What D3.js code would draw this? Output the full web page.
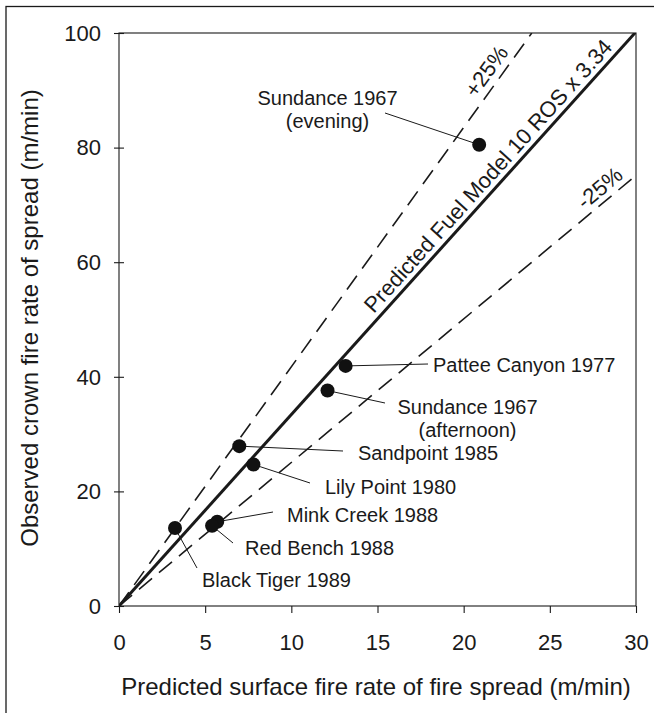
<!DOCTYPE html>
<html><head><meta charset="utf-8">
<script src="https://cdn.jsdelivr.net/npm/d3@7/dist/d3.min.js"></script>
<style>
html,body{margin:0;padding:0;background:#fff;}
svg{display:block;font-family:"Liberation Sans",Arial,Helvetica,sans-serif;}
</style></head>
<body>
<svg id="chart" width="654" height="713"></svg>
<script>
// ---- data ----
const fireNames = ["Sundance 1967 (evening)","Pattee Canyon 1977","Sundance 1967 (afternoon)","Sandpoint 1985","Lily Point 1980","Mink Creek 1988","Red Bench 1988","Black Tiger 1989"];
const predictedSurface = [20.9, 13.15, 12.1, 6.98, 7.8, 5.7, 5.4, 3.25];
const observedCrown    = [80.5, 41.9, 37.6, 27.9, 24.7, 14.7, 14.0, 13.6];
const xTicks = [0,5,10,15,20,25,30];
const yTicks = [0,20,40,60,80,100];
const modelFactor = 3.34;
const bandFactors = [1.25, 0.75];
const bandLabels = ["+25%","-25%"];
const modelLabel = "Predicted Fuel Model 10 ROS x 3.34";
const xTitle = "Predicted surface fire rate of fire spread (m/min)";
const yTitle = "Observed crown fire rate of spread (m/min)";

// ---- label layout (pixel positions of annotation text & leader ends) ----
const labelLayout = [
  {lines:["Sundance 1967","(evening)"], x:327.5, y:105, anchor:"middle", lx:385, ly:113},
  {lines:["Pattee Canyon 1977"], x:433, y:372, anchor:"start", lx:428, ly:364},
  {lines:["Sundance 1967","(afternoon)"], x:467.5, y:414, anchor:"middle", lx:385, ly:403},
  {lines:["Sandpoint 1985"], x:358, y:460, anchor:"start", lx:343, ly:451},
  {lines:["Lily Point 1980"], x:325, y:494, anchor:"start", lx:310, ly:483},
  {lines:["Mink Creek 1988"], x:287, y:522, anchor:"start", lx:273, ly:512},
  {lines:["Red Bench 1988"], x:245, y:555, anchor:"start", lx:233, ly:543},
  {lines:["Black Tiger 1989"], x:202, y:587, anchor:"start", lx:197, ly:568}
];

const svg = d3.select("#chart");
const ink = "#1a1a1a";
const L = 119, R = 636, T = 33, B = 606;
const x = d3.scaleLinear().domain([0,30]).range([L,R]);
const y = d3.scaleLinear().domain([0,100]).range([B,T]);

// outer figure border (only left/top visible)
svg.append("rect").attr("x",6).attr("y",6.5).attr("width",760).attr("height",760)
  .attr("fill","none").attr("stroke",ink).attr("stroke-width",1.3);

// clip
svg.append("clipPath").attr("id","plotclip").append("rect")
  .attr("x",L).attr("y",T).attr("width",R-L).attr("height",B-T);

// plot frame
svg.append("rect").attr("x",L).attr("y",T).attr("width",R-L).attr("height",B-T)
  .attr("fill","none").attr("stroke",ink).attr("stroke-width",1.1);

// x axis
const gx = svg.append("g").attr("transform",`translate(0,${B})`)
  .call(d3.axisBottom(x).tickValues(xTicks).tickSize(7).tickPadding(21).tickFormat(d3.format("d")));
gx.select(".domain").remove();
gx.selectAll(".tick line").attr("stroke",ink).attr("stroke-width",1.1);
gx.selectAll(".tick text").attr("fill",ink).style("font-size","22px").style("font-family",'"Liberation Sans",Arial,sans-serif');

// y axis
const gy = svg.append("g").attr("transform",`translate(${L},0)`)
  .call(d3.axisLeft(y).tickValues(yTicks).tickSize(5).tickPadding(13).tickFormat(d3.format("d")));
gy.select(".domain").remove();
gy.selectAll(".tick line").attr("x1",5).attr("stroke",ink).attr("stroke-width",1.1);
gy.selectAll(".tick text").attr("fill",ink).attr("dy","0.33em").style("font-size","22px").style("font-family",'"Liberation Sans",Arial,sans-serif');

// axis titles
svg.append("text").attr("x",376).attr("y",695).attr("text-anchor","middle")
  .attr("fill",ink).style("font-size","24px").text(xTitle);
svg.append("text").attr("transform","translate(38,318) rotate(-90)").attr("text-anchor","middle")
  .attr("fill",ink).style("font-size","24px").text(yTitle);

// model lines
function endX(k){ return Math.min(30, 100/k); }
const plot = svg.append("g").attr("clip-path","url(#plotclip)");
const lineGen = d3.line().x(d=>x(d[0])).y(d=>y(d[1]));
bandFactors.forEach(f=>{
  const k = modelFactor*f;
  plot.append("path").datum([[0,0],[endX(k),k*endX(k)]]).attr("d",lineGen)
    .attr("fill","none").attr("stroke",ink).attr("stroke-width",1.6).attr("stroke-dasharray","17,9");
});
plot.append("path").datum([[0,0],[30,modelFactor*30]]).attr("d",lineGen)
  .attr("fill","none").attr("stroke",ink).attr("stroke-width",3);

// line labels
function angleFor(k){ return Math.atan2(y(0)-y(k), x(1)-x(0))*180/Math.PI; }
function lineLabel(k, xd, txt, dy){
  const a = angleFor(k);
  svg.append("text").attr("transform",`translate(${x(xd)},${y(k*xd)}) rotate(${-a})`)
    .attr("text-anchor","middle").attr("dy",dy).attr("fill",ink).style("font-size","22px").text(txt);
}
lineLabel(modelFactor, 22.0, modelLabel, -6);
lineLabel(modelFactor*bandFactors[0], 22.0, bandLabels[0], -7);
lineLabel(modelFactor*bandFactors[1], 28.4, bandLabels[1], -6);

// leader lines
labelLayout.forEach((lab,i)=>{
  svg.append("line").attr("x1",x(predictedSurface[i])).attr("y1",y(observedCrown[i]))
    .attr("x2",lab.lx).attr("y2",lab.ly).attr("stroke",ink).attr("stroke-width",1);
});

// points
svg.append("g").selectAll("circle").data(predictedSurface).join("circle")
  .attr("cx",(d)=>x(d)).attr("cy",(d,i)=>y(observedCrown[i])).attr("r",7).attr("fill","#111");

// annotation labels
labelLayout.forEach(lab=>{
  const t = svg.append("text").attr("text-anchor",lab.anchor).attr("fill",ink).style("font-size","20px");
  lab.lines.forEach((s,j)=>{
    t.append("tspan").attr("x",lab.x).attr("y",lab.y + j*23).text(s);
  });
});
</script>
</body></html>
